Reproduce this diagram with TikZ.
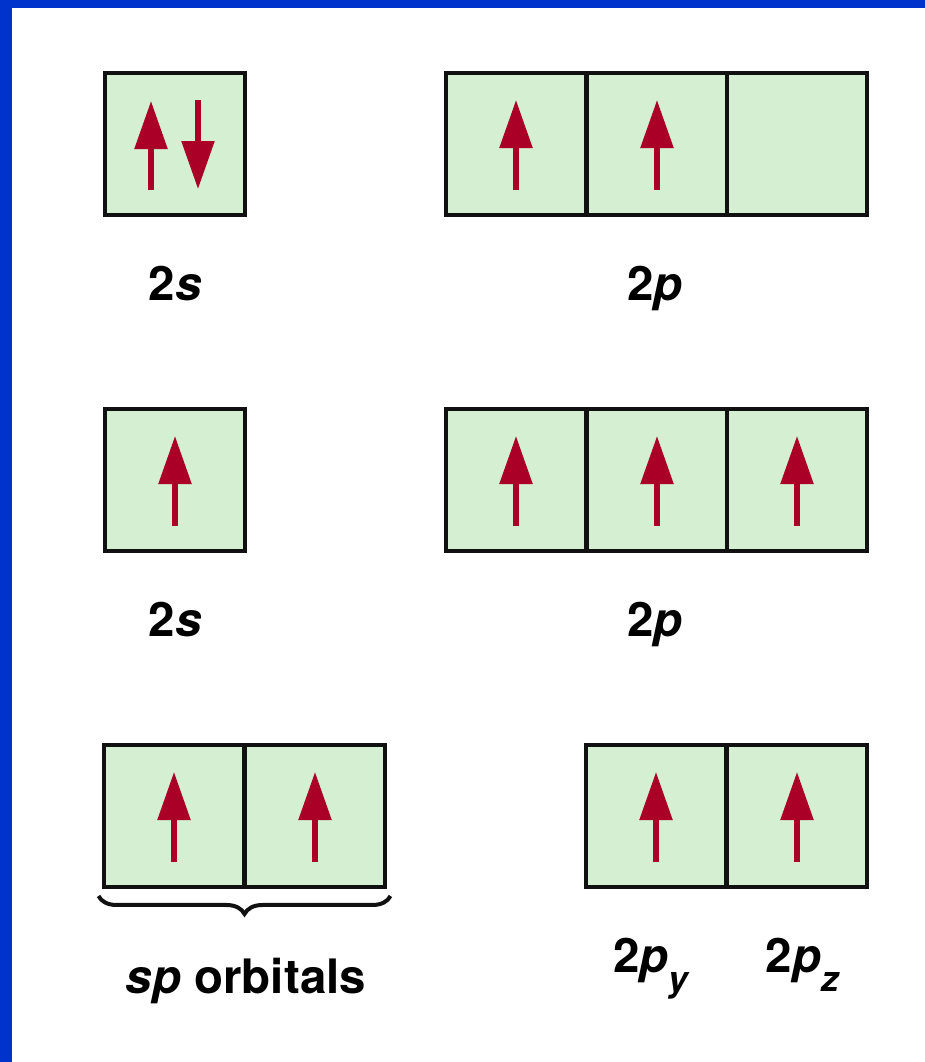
\documentclass[tikz,border=0pt]{standalone}
\usepackage{fontspec}
\setmainfont{TeX Gyre Heros}
\usetikzlibrary{arrows.meta,decorations.pathreplacing}
\definecolor{frame}{HTML}{0033CC}
\definecolor{cellfill}{HTML}{D5EFD3}
\definecolor{cellline}{HTML}{111111}
\definecolor{spinred}{HTML}{AA0028}
\newcommand{\sub}[1]{\raisebox{-11pt}{\fontsize{20}{22}\selectfont\textit{#1}}}

\begin{document}
\begin{tikzpicture}[x=0.02cm,y=-0.02cm,
  cell/.style={draw=cellline,fill=cellfill,line width=0.08cm,minimum width=2.82cm,minimum height=2.84cm,inner sep=0pt},
  spinarrow/.style={-{Triangle[length=0.96cm,width=0.64cm]},line width=0.11cm,spinred},
  lbl/.style={font=\fontsize{27}{32}\selectfont\bfseries,anchor=base,inner sep=0pt},
  brace/.style={decorate,decoration={brace,mirror,amplitude=0.36cm},line width=0.08cm,cellline}]
  \useasboundingbox (0,0) rectangle (925,1062);
  \fill[frame] (0,0) rectangle (925,1062);
  \fill[white] (12,8) rectangle (925,1062);

  % ===== ground state =====
  \node[cell] (s1) at (175,144) {};
  \node[cell] (p1a) at (516,144) {};
  \node[cell] (p1b) at (657,144) {};
  \node[cell] (p1c) at (797,144) {};
  \draw[spinarrow] ([xshift=-0.48cm,yshift=-0.92cm]s1.center) -- ([xshift=-0.48cm,yshift=0.86cm]s1.center);
  \draw[spinarrow] ([xshift=0.46cm,yshift=0.88cm]s1.center) -- ([xshift=0.46cm,yshift=-0.90cm]s1.center);
  \draw[spinarrow] ([yshift=-0.92cm]p1a.center) -- ([yshift=0.88cm]p1a.center);
  \draw[spinarrow] ([yshift=-0.92cm]p1b.center) -- ([yshift=0.88cm]p1b.center);
  \node[lbl] (l2s) at (175,300) {2\textit{s}};
  \node[lbl] (l2p) at (655,300) {2\textit{p}};

  % ===== promoted =====
  \node[cell] (s2) at (175,480) {};
  \node[cell] (p2a) at (516,480) {};
  \node[cell] (p2b) at (657,480) {};
  \node[cell] (p2c) at (797,480) {};
  \foreach \c in {s2,p2a,p2b,p2c}
    \draw[spinarrow] ([yshift=-0.92cm]\c.center) -- ([yshift=0.88cm]\c.center);
  \node[lbl] (l2s') at (175,636) {2\textit{s}};
  \node[lbl] (l2p') at (655,636) {2\textit{p}};

  % ===== hybridized =====
  \node[cell] (sp1) at (174,816) {};
  \node[cell] (sp2) at (315,816) {};
  \node[cell] (py) at (656,816) {};
  \node[cell] (pz) at (797,816) {};
  \foreach \c in {sp1,sp2,py,pz}
    \draw[spinarrow] ([yshift=-0.92cm]\c.center) -- ([yshift=0.88cm]\c.center);
  \draw[brace] ([xshift=-0.06cm,yshift=-0.14cm]sp1.south west) -- ([xshift=0.06cm,yshift=-0.14cm]sp2.south east);
  \node[lbl] (lsp) at (246,993) {\textit{sp} orbitals};
  \node[lbl] (lpy) at (652,972) {2\textit{p}\sub{y}};
  \node[lbl] (lpz) at (803,972) {2\textit{p}\sub{z}};
\end{tikzpicture}
\end{document}
